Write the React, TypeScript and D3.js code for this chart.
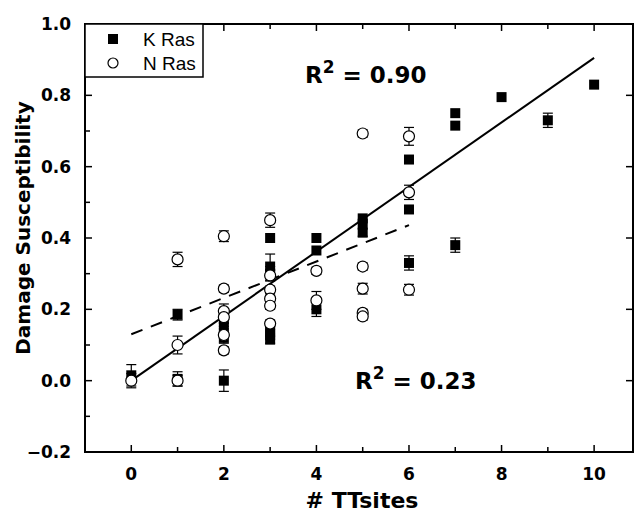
import * as d3 from "d3";

// K Ras (filled squares): TT sites, susceptibility, error
const kRasX = [0, 1, 1, 2, 2, 2, 2, 3, 3, 3, 3, 3, 3, 4, 4, 4, 5, 5, 5, 6, 6, 6, 7, 7, 7, 8, 9, 10];
const kRasY = [0.015, 0.185, 0.005, 0.0, 0.165, 0.14, 0.12, 0.4, 0.32, 0.3, 0.145, 0.13, 0.115, 0.4, 0.365, 0.2, 0.455, 0.44, 0.415, 0.62, 0.48, 0.33, 0.75, 0.715, 0.38, 0.795, 0.73, 0.83];
const kRasErr = [0.03, 0.015, 0.02, 0.03, 0.02, 0.02, 0.015, 0, 0.035, 0.02, 0.015, 0.015, 0.01, 0, 0, 0.02, 0, 0, 0.01, 0, 0, 0.02, 0, 0, 0.02, 0, 0.02, 0];

// N Ras (open circles)
const nRasX = [0, 1, 1, 1, 2, 2, 2, 2, 2, 2, 3, 3, 3, 3, 3, 3, 4, 4, 5, 5, 5, 5, 5, 6, 6, 6];
const nRasY = [0.0, 0.34, 0.1, 0.0, 0.405, 0.258, 0.195, 0.178, 0.128, 0.085, 0.45, 0.295, 0.255, 0.23, 0.21, 0.16, 0.308, 0.225, 0.693, 0.32, 0.258, 0.19, 0.18, 0.685, 0.528, 0.255];
const nRasErr = [0.02, 0.02, 0.025, 0.015, 0.015, 0.01, 0.02, 0.015, 0.01, 0.01, 0.02, 0.015, 0.01, 0.01, 0.01, 0.01, 0.01, 0.025, 0.01, 0.01, 0.015, 0.01, 0.01, 0.025, 0.02, 0.015];

// linear fits: intercept, slope, x range
const kFit = { b: 0.0, m: 0.0905, x0: 0, x1: 10, r2: "0.90" };
const nFit = { b: 0.13, m: 0.051, x0: 0, x1: 6, r2: "0.23" };

const xTicks = [0, 2, 4, 6, 8, 10];
const yTicks = [-0.2, 0.0, 0.2, 0.4, 0.6, 0.8, 1.0];

const W = 635;
const H = 512;
const m = { top: 24, right: 2, bottom: 60, left: 85 };
const bold = "'DejaVu Sans', Arial, sans-serif";
const plain = "'Liberation Sans', Arial, sans-serif";

export default function App() {
  const x = d3.scaleLinear().domain([-1, 10.84]).range([m.left, W - m.right]);
  const y = d3.scaleLinear().domain([-0.2, 1.0]).range([H - m.bottom, m.top]);
  const [x0, x1] = x.range();
  const [y0, y1] = y.range();

  const xMinor = d3.range(-1, 11, 1);
  const yMinor = d3.range(-0.2, 1.01, 0.1);

  const kPts = kRasX.map((v, i) => ({ x: v, y: kRasY[i], e: kRasErr[i] }));
  const nPts = nRasX.map((v, i) => ({ x: v, y: nRasY[i], e: nRasErr[i] }));

  const line = d3.line<[number, number]>().x((d) => x(d[0])).y((d) => y(d[1]));
  const fitPath = (f: typeof kFit) =>
    line([
      [f.x0, f.b + f.m * f.x0],
      [f.x1, f.b + f.m * f.x1],
    ]) || "";

  const errBar = (p: { x: number; y: number; e: number }, i: number) =>
    p.e > 0 ? (
      <g key={i} stroke="#000" strokeWidth={1.2}>
        <line x1={x(p.x)} x2={x(p.x)} y1={y(p.y - p.e)} y2={y(p.y + p.e)} />
        <line x1={x(p.x) - 5} x2={x(p.x) + 5} y1={y(p.y - p.e)} y2={y(p.y - p.e)} />
        <line x1={x(p.x) - 5} x2={x(p.x) + 5} y1={y(p.y + p.e)} y2={y(p.y + p.e)} />
      </g>
    ) : null;

  return (
    <svg width={W} height={H} style={{ position: "absolute", left: 0, top: 0, background: "#fff" }} fontFamily={bold}>
      {/* ticks */}
      <g stroke="#000" strokeWidth={1.5}>
        {yMinor.map((v, i) => {
          const len = i % 2 === 0 ? 7 : 5;
          return <line key={"yl" + i} x1={x0} x2={x0 + len} y1={y(v)} y2={y(v)} />;
        })}
        {yTicks.map((v, i) => (
          <line key={"yr" + i} x1={x1} x2={x1 - 7} y1={y(v)} y2={y(v)} />
        ))}
        {xMinor.map((v, i) => {
          const len = v % 2 === 0 ? 7 : 5;
          return (
            <g key={"xt" + i}>
              <line x1={x(v)} x2={x(v)} y1={y0} y2={y0 - len} />
              <line x1={x(v)} x2={x(v)} y1={y1} y2={y1 + len} />
            </g>
          );
        })}
      </g>

      {/* frame */}
      <rect x={x0} y={y1} width={x1 - x0} height={y0 - y1} fill="none" stroke="#000" strokeWidth={2} />

      {/* tick labels */}
      {yTicks.map((v) => (
        <text key={"yl" + v} x={71} y={y(v)} dy="0.36em" textAnchor="end" fontSize={17} fontWeight="bold">
          {d3.format(".1f")(v)}
        </text>
      ))}
      {xTicks.map((v) => (
        <text key={"xl" + v} x={x(v)} y={y0 + 28} textAnchor="middle" fontSize={17} fontWeight="bold">
          {v}
        </text>
      ))}

      {/* axis titles */}
      <text x={362} y={508} textAnchor="middle" fontSize={22} fontWeight="bold">
        # TTsites
      </text>
      <text transform={`translate(30,228) rotate(-90)`} textAnchor="middle" fontSize={20} fontWeight="bold">
        Damage Susceptibility
      </text>

      {/* fits */}
      <path d={fitPath(kFit)} stroke="#000" strokeWidth={2} fill="none" />
      <path d={fitPath(nFit)} stroke="#000" strokeWidth={2} fill="none" strokeDasharray="12,9" />

      {/* K Ras */}
      {kPts.map(errBar)}
      {kPts.map((p, i) => (
        <rect key={"k" + i} x={x(p.x) - 5} y={y(p.y) - 5} width={10} height={10} fill="#000" />
      ))}

      {/* N Ras */}
      {nPts.map(errBar)}
      {nPts.map((p, i) => (
        <circle key={"n" + i} cx={x(p.x)} cy={y(p.y)} r={5.5} fill="#fff" stroke="#000" strokeWidth={1.2} />
      ))}

      {/* R² labels */}
      <text x={305} y={83} fontSize={23} fontWeight="bold">
        R<tspan dy={-10} fontSize={17}>2</tspan>
        <tspan dy={10}> = {kFit.r2}</tspan>
      </text>
      <text x={355} y={389} fontSize={23} fontWeight="bold">
        R<tspan dy={-10} fontSize={17}>2</tspan>
        <tspan dy={10}> = {nFit.r2}</tspan>
      </text>

      {/* legend */}
      <rect x={x0} y={y1} width={118} height={53} fill="#fff" stroke="#000" strokeWidth={1.5} />
      <rect x={108} y={34} width={10} height={10} fill="#000" />
      <text x={143} y={39} dy="0.36em" fontSize={19} fontFamily={plain}>
        K Ras
      </text>
      <circle cx={113} cy={63} r={5} fill="#fff" stroke="#000" strokeWidth={1.2} />
      <text x={143} y={63} dy="0.36em" fontSize={19} fontFamily={plain}>
        N Ras
      </text>
    </svg>
  );
}
